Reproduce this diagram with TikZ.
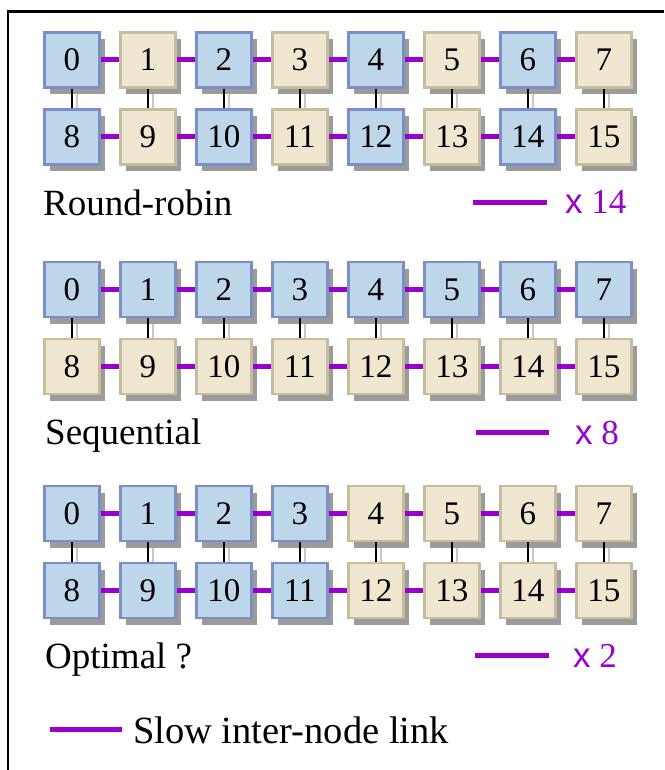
\documentclass[tikz,border=0pt]{standalone}
\usepackage{fontspec}
\setmainfont{Liberation Serif}
\newfontfamily\xsans{Liberation Sans}
\usetikzlibrary{shadows}
\pgfdeclarelayer{bg}
\pgfsetlayers{bg,main}
\definecolor{bfill}{HTML}{BDD6EA}
\definecolor{bdraw}{HTML}{7A8FC6}
\definecolor{yfill}{HTML}{EFE7CF}
\definecolor{ydraw}{HTML}{C5BE9D}
\definecolor{shad}{HTML}{9B9B9B}
\definecolor{purp}{HTML}{9900CC}
\tikzset{
  cell/.style={rectangle, minimum size=55pt, inner sep=0pt, line width=2.4pt,
    font=\fontsize{33}{33}\selectfont,
    drop shadow={shadow xshift=6pt, shadow yshift=-7pt, fill=shad, opacity=1}},
  slow/.style={line width=5pt, draw=purp},
  fast/.style={line width=2pt, draw=black},
  fastshadow/.style={line width=1.5pt, draw=black!22},
  caption/.style={anchor=base west, inner sep=0pt, font=\fontsize{37}{37}\selectfont},
  count/.style={anchor=base west, inner sep=0pt, text=purp, font=\fontsize{35}{35}\selectfont},
  frame/.style={line width=2.5pt, draw=black}
}
\begin{document}
\begin{tikzpicture}[x=1pt,y=-1pt]
\useasboundingbox (0,0) rectangle (664,770);
\draw[frame] (8,770) -- (8,11.5) -- (664,11.5);

\foreach \c in {0,...,7} {
  \pgfmathtruncatemacro{\b}{\c+8}
  \pgfmathsetmacro{\xx}{71.8+76*\c}
  % Round-robin
  \ifodd\c \def\fc{yfill}\def\dc{ydraw}\else\def\fc{bfill}\def\dc{bdraw}\fi
  \node[cell, fill=\fc, draw=\dc] (a\c) at (\xx,60) {\c};
  \node[cell, fill=\fc, draw=\dc] (a\b) at (\xx,137) {\b};
  % Sequential
  \node[cell, fill=bfill, draw=bdraw] (b\c) at (\xx,289.5) {\c};
  \node[cell, fill=yfill, draw=ydraw] (b\b) at (\xx,366.5) {\b};
  % Optimal
  \ifnum\c<4 \def\fc{bfill}\def\dc{bdraw}\else\def\fc{yfill}\def\dc{ydraw}\fi
  \node[cell, fill=\fc, draw=\dc] (c\c) at (\xx,513.5) {\c};
  \node[cell, fill=\fc, draw=\dc] (c\b) at (\xx,590.5) {\b};
}

\foreach \p in {a,b,c} {
  \foreach \c in {0,...,6} {
    \pgfmathtruncatemacro{\n}{\c+1}
    \pgfmathtruncatemacro{\cb}{\c+8}
    \pgfmathtruncatemacro{\nb}{\c+9}
    \draw[slow] (\p\c.east) -- (\p\n.west);
    \draw[slow] (\p\cb.east) -- (\p\nb.west);
  }
  \foreach \c in {0,...,7} {
    \pgfmathtruncatemacro{\b}{\c+8}
    \begin{pgfonlayer}{bg}
      \draw[fastshadow] ([xshift=5pt]\p\c.south) -- ([xshift=5pt]\p\b.north);
    \end{pgfonlayer}
    \draw[fast] (\p\c.south) -- (\p\b.north);
  }
}

\node[caption] (rr) at (43,215) {Round-robin};
\node[caption] (sq) at (45,444) {Sequential};
\node[caption] (op) at (45,668) {Optimal ?};

\coordinate (l1a) at (473,202); \coordinate (l1b) at (547,202);
\draw[slow] (l1a) -- (l1b);
\node[count] (n1) at (565,213) {{\xsans x} 14};

\coordinate (l2a) at (476,432); \coordinate (l2b) at (549,432);
\draw[slow] (l2a) -- (l2b);
\node[count] (n2) at (575,444) {{\xsans x} 8};

\coordinate (l3a) at (475,655); \coordinate (l3b) at (549,655);
\draw[slow] (l3a) -- (l3b);
\node[count] (n3) at (573,667) {{\xsans x} 2};

\coordinate (lga) at (50,729); \coordinate (lgb) at (122,729);
\draw[slow] (lga) -- (lgb);
\node[caption, font=\fontsize{38.5}{38.5}\selectfont] (lg) at (133,743) {Slow inter-node link};
\end{tikzpicture}
\end{document}
